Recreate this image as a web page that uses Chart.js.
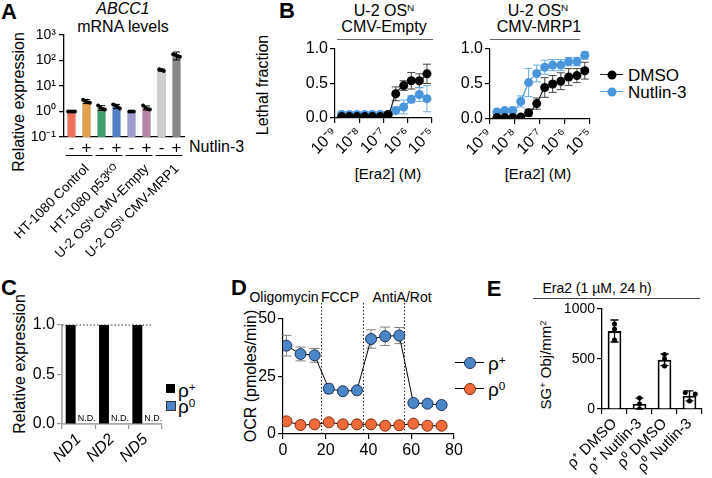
<!DOCTYPE html>
<html>
<head>
<meta charset="utf-8">
<script src="https://cdn.jsdelivr.net/npm/chart.js@4.4.1/dist/chart.umd.min.js"></script>
<style>
html, body { margin: 0; padding: 0; background: #fff; }
#fig { position: relative; width: 712px; height: 478px; overflow: hidden;
       font-family: 'Liberation Sans', Arial, sans-serif; color: #000; }
#fig canvas { position: absolute; }
.t { position: absolute; white-space: nowrap; line-height: 1; transform: translate(-50%, -50%); }
.l { position: absolute; white-space: nowrap; line-height: 1; transform: translate(0, -50%); }
.r { transform: translate(-50%, -50%) rotate(-90deg); }
.b { font-size: 22px; font-weight: bold; }
.u { position: absolute; height: 0; border-top: 1.3px solid #000; }
.dot { position: absolute; border-radius: 50%; transform: translate(-50%, -50%); }
sup { font-size: 0.62em; position: relative; top: -0.5em; vertical-align: baseline; line-height: 0; }
</style>
</head>
<body>
<div id="fig">
  <!-- panel A -->
  <div class="t b" style="left:9px;top:12px">A</div>
  <div class="t" style="left:123px;top:9px;font-size:16px;font-style:italic">ABCC1</div>
  <div class="t" style="left:123px;top:27px;font-size:16px">mRNA levels</div>
  <div class="t r" style="left:19px;top:102px;font-size:16px">Relative expression</div>
  <div class="l" style="left:189px;top:147px;font-size:16px">Nutlin-3</div>

  <!-- panel B -->
  <div class="t b" style="left:287px;top:11px">B</div>
  <div class="t" style="left:384px;top:11px;font-size:16px">U-2 OS<sup>N</sup></div>
  <div class="t" style="left:384px;top:27px;font-size:16px">CMV-Empty</div>
  <div class="u" style="left:337px;top:39px;width:96px;border-color:#666"></div>
  <div class="t" style="left:538px;top:11px;font-size:16px">U-2 OS<sup>N</sup></div>
  <div class="t" style="left:539px;top:27px;font-size:16px">CMV-MRP1</div>
  <div class="u" style="left:490px;top:39px;width:90px;border-color:#666"></div>
  <div class="t r" style="left:263px;top:85px;font-size:16px">Lethal fraction</div>
  <div class="t" style="left:388px;top:173px;font-size:15px">[Era2] (M)</div>
  <div class="t" style="left:538px;top:173px;font-size:15px">[Era2] (M)</div>
  <div class="u" style="left:600px;top:74px;width:23px;border-top:1.5px solid #222"></div>
  <div class="dot" style="left:612px;top:74.5px;width:9px;height:9px;background:#000"></div>
  <div class="l" style="left:628px;top:75px;font-size:17px">DMSO</div>
  <div class="u" style="left:600px;top:91px;width:23px;border-top:1.5px solid #4d9de0"></div>
  <div class="dot" style="left:612px;top:91.5px;width:9px;height:9px;background:#4a96dc"></div>
  <div class="l" style="left:628px;top:92px;font-size:17px">Nutlin-3</div>

  <!-- panel C -->
  <div class="t b" style="left:9px;top:288px">C</div>
  <div class="t r" style="left:20px;top:364px;font-size:16px">Relative expression</div>
  <div style="position:absolute;left:166px;top:384px;width:9px;height:9px;background:#000"></div>
  <div class="l" style="left:178px;top:390px;font-size:19px">ρ<sup>+</sup></div>
  <div style="position:absolute;left:166px;top:401px;width:8px;height:8px;background:#4a86c8;border:1px solid #333"></div>
  <div class="l" style="left:178px;top:406px;font-size:19px">ρ<sup>0</sup></div>

  <!-- panel D -->
  <div class="t b" style="left:239px;top:288px">D</div>
  <div class="t r" style="left:251px;top:376px;font-size:16px">OCR (pmoles/min)</div>
  <div class="t" style="left:284px;top:297px;font-size:14px">Oligomycin</div>
  <div class="t" style="left:340px;top:297px;font-size:14px">FCCP</div>
  <div class="t" style="left:402px;top:297px;font-size:14px">AntiA/Rot</div>
  <div class="u" style="left:455px;top:362px;width:29px;border-top:1.2px solid #000"></div>
  <div class="dot" style="left:470px;top:362.5px;width:10px;height:10px;background:#4a86c8;border:1px solid #1c3558"></div>
  <div class="l" style="left:488px;top:363px;font-size:19px">ρ<sup>+</sup></div>
  <div class="u" style="left:455px;top:388px;width:29px;border-top:1.2px solid #000"></div>
  <div class="dot" style="left:470px;top:388.5px;width:10px;height:10px;background:#f06a3a;border:1px solid #7a3010"></div>
  <div class="l" style="left:488px;top:389px;font-size:19px">ρ<sup>0</sup></div>

  <!-- panel E -->
  <div class="t b" style="left:494px;top:289px">E</div>
  <div class="t" style="left:597px;top:288px;font-size:14px">Era2 (1 µM, 24 h)</div>
  <div class="u" style="left:533px;top:298px;width:167px;border-color:#444"></div>
  <div class="t r" style="left:545px;top:365px;font-size:15px">SG<sup>+</sup> Obj/mm<sup>2</sup></div>
</div>

<script>
// ---------- data ----------
// A: ABCC1 mRNA levels (relative expression, log scale)
const groupsA = ['HT-1080 Control', 'HT-1080 p53ᴷᴼ', 'U-2 OSᴺ CMV-Empty', 'U-2 OSᴺ CMV-MRP1'];
const nutlinA = ['-', '+', '-', '+', '-', '+', '-', '+'];
const meanA = [1.0, 2.5, 1.4, 1.6, 1.0, 1.4, 42, 160];
const sdA = [0.02, 0.45, 0.3, 0.3, 0.02, 0.25, 4, 55];
const repsA = [[1, 1, 1, 1], [2.9, 2.6, 2.3, 2.2], [1.7, 1.4, 1.25, 1.2], [1.9, 1.7, 1.5, 1.3],
               [1, 1, 1], [1.7, 1.4, 1.25, 1.2], [45, 42, 39], [175, 165, 150, 140]];
const colorsA = ['#f0705a', '#e3a048', '#3f9f6c', '#5080c8', '#9d9dd0', '#b884a6', '#cdcdcd', '#878787'];
const yTicksA = [0.1, 1, 10, 100, 1000];

// B: lethal fraction vs [Era2] (M)
const concB = [1.9e-9, 3.9e-9, 8.1e-9, 1.7e-8, 3.5e-8, 7.4e-8, 1.55e-7, 3.2e-7, 6.8e-7, 1.4e-6, 3.0e-6, 6.2e-6];
const emptyDmso = [0.02, 0.02, 0.02, 0.02, 0.02, 0.02, 0.05, 0.35, 0.47, 0.54, 0.54, 0.64];
const emptyDmsoSd = [0.01, 0.01, 0.01, 0.01, 0.01, 0.01, 0.02, 0.1, 0.07, 0.12, 0.1, 0.14];
const emptyNut = [0.05, 0.05, 0.05, 0.05, 0.05, 0.05, 0.05, 0.11, 0.16, 0.27, 0.34, 0.28];
const emptyNutSd = [0.02, 0.02, 0.02, 0.02, 0.02, 0.02, 0.02, 0.05, 0.1, 0.05, 0.1, 0.19];
const mrpDmso = [0.02, 0.02, 0.02, 0.03, 0.09, 0.22, 0.45, 0.5, 0.54, 0.6, 0.62, 0.69];
const mrpDmsoSd = [0.01, 0.01, 0.01, 0.02, 0.05, 0.08, 0.14, 0.12, 0.12, 0.12, 0.1, 0.12];
const mrpNut = [0.1, 0.12, 0.12, 0.25, 0.52, 0.65, 0.74, 0.77, 0.77, 0.82, 0.82, 0.91];
const mrpNutSd = [0.03, 0.03, 0.05, 0.08, 0.2, 0.12, 0.1, 0.08, 0.08, 0.06, 0.06, 0.05];

// C: mtDNA-encoded genes
const genesC = ['ND1', 'ND2', 'ND5'];
const rhoPlusC = [1, 1, 1];
const rhoZeroC = [0, 0, 0];   // not detected
const refLineC = 1.0;

// D: Seahorse OCR
const timeD = [1.6, 8.2, 14.8, 21.4, 28, 34.6, 41.2, 47.8, 54.4, 61, 67.6, 74.2];
const ocrPlus = [38.4, 34.8, 34.2, 19.7, 18.6, 19.0, 41.3, 42.5, 42.8, 13.5, 13.2, 12.6];
const ocrPlusSd = [4.5, 3, 3, 2, 1, 1, 4, 4, 3.5, 1, 1, 1];
const ocrZero = [5.5, 3.9, 4.2, 5.1, 4.2, 4.2, 4.2, 3.6, 3.8, 4.5, 3.6, 3.6];
const ocrZeroSd = [0.8, 0.5, 0.5, 0.6, 0.5, 0.5, 0.5, 0.5, 0.5, 0.5, 0.5, 0.5];
const injectionTimes = [17.8, 37.4, 56.5];

// E: stress granules
const groupsE = ['ρ⁺ DMSO', 'ρ⁺ Nutlin-3', 'ρ⁰ DMSO', 'ρ⁰ Nutlin-3'];
const meanE = [780, 53, 492, 132];
const sdE = [110, 55, 58, 50];
const repsE = [[850, 800, 690], [110, 50, 0], [545, 500, 430], [165, 150, 80]];
const jitterE = [[0, 0, 0], [0, 0, 0], [0, 0, 0], [-0.17, 0.23, 0]];

// ---------- helpers ----------
Chart.defaults.font.family = "'Liberation Sans', Arial, sans-serif";
Chart.defaults.color = '#000';
Chart.defaults.animation = false;

const SUP = {'-': '⁻', '0': '⁰', '1': '¹', '2': '²', '3': '³', '4': '⁴', '5': '⁵', '6': '⁶', '7': '⁷', '8': '⁸', '9': '⁹'};
const pow10 = v => '10' + String(Math.round(Math.log10(v))).split('').map(c => SUP[c]).join('');
const isPow10 = v => Math.abs(Math.log10(v) - Math.round(Math.log10(v))) < 1e-9;

const fixY = w => s => { s.width = w; s.paddingTop = 0; s.paddingBottom = 0; };
const fixX = h => s => { s.height = h; s.paddingLeft = 0; s.paddingRight = 0; };

function canvasAt(x, y, w, h) {
    const c = document.createElement('canvas');
    c.width = w; c.height = h;
    c.style.left = x + 'px'; c.style.top = y + 'px';
    document.getElementById('fig').appendChild(c);
    return c;
}

function baseOptions(pad) {
    return {
        responsive: false, animation: false, devicePixelRatio: 1,
        layout: {padding: pad},
        plugins: {legend: {display: false}, tooltip: {enabled: false}}
    };
}

// replicate dots: a transparent scatter chart laid over a bar chart with the same chart area
function dotOverlay(x, y, w, h, pad, yw, xh, n, yOpts, pts, r) {
    const hidden = {ticks: {display: false}, grid: {display: false}, border: {display: false}};
    return new Chart(canvasAt(x, y, w, h), {
        type: 'scatter',
        data: {datasets: [{data: pts, pointRadius: r, backgroundColor: '#000', borderWidth: 0}]},
        options: Object.assign(baseOptions(pad), {
            scales: {
                x: Object.assign({type: 'linear', min: -0.5, max: n - 0.5, afterFit: fixX(xh)}, hidden),
                y: Object.assign({}, yOpts, hidden, {afterFit: fixY(yw)})
            }
        })
    });
}

// error bars, drawn from the dataset's value +/- error through its own y scale
function drawErrors(chart, behind) {
    const ctx = chart.ctx;
    chart.data.datasets.forEach((ds, i) => {
        if (!ds.errors || !!ds.errorsBehind !== behind) return;
        const meta = chart.getDatasetMeta(i);
        const ys = chart.scales[meta.yAxisID];
        ctx.save();
        ctx.strokeStyle = ds.errorColor || '#000';
        ctx.lineWidth = ds.errorWidth || 1;
        meta.data.forEach((el, j) => {
            const e = ds.errors[j];
            if (!e) return;
            const raw = ds.data[j];
            const v = typeof raw === 'object' ? raw.y : raw;
            const hi = ys.getPixelForValue(v + e);
            const lo = ys.getPixelForValue(Math.max(v - e, ys.min));
            const cap = ds.errorCap || 4;
            ctx.beginPath();
            ctx.moveTo(el.x, hi); ctx.lineTo(el.x, lo);
            ctx.moveTo(el.x - cap, hi); ctx.lineTo(el.x + cap, hi);
            ctx.moveTo(el.x - cap, lo); ctx.lineTo(el.x + cap, lo);
            ctx.stroke();
        });
        ctx.restore();
    });
}
const errorBars = {
    id: 'errorBars',
    beforeDatasetsDraw(chart) { drawErrors(chart, true); },
    afterDatasetsDraw(chart) { drawErrors(chart, false); }
};
Chart.register(errorBars);

// ---------- A ----------
const pairLines = {
    id: 'pairLines',
    afterDraw(chart) {
        const xs = chart.scales.x, ctx = chart.ctx;
        ctx.save();
        ctx.strokeStyle = '#000'; ctx.lineWidth = 1;
        groupsA.forEach((g, k) => {
            const y = xs.bottom - 3.5;
            ctx.beginPath();
            ctx.moveTo(xs.getPixelForValue(2 * k) - 6, y);
            ctx.lineTo(xs.getPixelForValue(2 * k + 1) + 6, y);
            ctx.stroke();
        });
        ctx.restore();
    }
};

const yOptsA = {type: 'logarithmic', min: 0.1, max: 1000};
new Chart(canvasAt(0, 0, 240, 280), {
    type: 'bar',
    data: {
        labels: nutlinA.map((s, i) => groupsA[Math.floor(i / 2)] + ' ' + s),
        datasets: [
            {data: meanA, backgroundColor: colorsA, borderColor: 'rgba(0,0,0,0.3)', borderWidth: 0.8,
             barPercentage: 0.62, categoryPercentage: 1, errors: sdA, errorColor: '#000', errorCap: 3.5}
        ]
    },
    options: Object.assign(baseOptions({left: 0, top: 35, right: 56, bottom: 0}), {
        scales: {
            x: {type: 'category', grid: {display: false, drawTicks: false}, border: {color: '#000', width: 1.3},
                ticks: {font: {size: 17}, padding: 1, maxRotation: 0, autoSkip: false, callback: (v, i) => nutlinA[i]},
                afterFit: fixX(22)},
            x2: {type: 'category', labels: groupsA, position: 'bottom', weight: 1, offset: true,
                 grid: {display: false, drawTicks: false}, border: {display: false},
                 ticks: {font: {size: 13.5}, padding: 2, minRotation: 45, maxRotation: 45, autoSkip: false, labelOffset: 8},
                 afterFit: fixX(121)},
            y: Object.assign({}, yOptsA, {
                afterBuildTicks: s => { s.ticks = yTicksA.map(v => ({value: v})); },
                ticks: {font: {size: 14}, padding: 3, callback: v => pow10(v)},
                grid: {drawOnChartArea: false, drawTicks: true, tickLength: 5, color: '#000', lineWidth: 1.3},
                border: {color: '#000', width: 1.3},
                afterFit: fixY(64)})
        }
    }),
    plugins: [pairLines]
});
const dotsA = [];
repsA.forEach((r, i) => r.forEach((v, j) => dotsA.push({x: i + (j - (r.length - 1) / 2) * 0.15, y: v})));
dotOverlay(0, 0, 240, 280, {left: 0, top: 35, right: 56, bottom: 0}, 64, 143, meanA.length, yOptsA, dotsA, 2);

// ---------- B ----------
function doseChart(x, y, w, h, yw, padRight, xh, dmso, dmsoSd, nut, nutSd) {
    const pts = arr => arr.map((v, i) => ({x: concB[i], y: v}));
    return new Chart(canvasAt(x, y, w, h), {
        type: 'line',
        data: {
            datasets: [
                {data: pts(dmso), errors: dmsoSd, errorColor: '#444', errorCap: 4, errorsBehind: true,
                 borderColor: '#222', borderWidth: 1.2, pointRadius: 4.5, pointBackgroundColor: '#000',
                 pointBorderColor: '#000', pointBorderWidth: 0, cubicInterpolationMode: 'monotone'},
                {data: pts(nut), errors: nutSd, errorColor: '#6aaee6', errorCap: 4, errorsBehind: true,
                 borderColor: '#4d9de0', borderWidth: 1.2, pointRadius: 4.5, pointBackgroundColor: '#4a96dc',
                 pointBorderColor: '#4a96dc', pointBorderWidth: 0, cubicInterpolationMode: 'monotone'}
            ]
        },
        options: Object.assign(baseOptions({left: 0, top: 49, right: padRight, bottom: 0}), {
            scales: {
                x: {type: 'logarithmic', min: 1e-9, max: 1e-5,
                    afterBuildTicks: s => { s.ticks = s.ticks.filter(t => isPow10(t.value)); },
                    ticks: {font: {size: 16}, padding: 1, minRotation: 45, maxRotation: 45, autoSkip: false,
                            callback: v => pow10(v)},
                    grid: {drawOnChartArea: false, drawTicks: true, tickLength: 5, color: '#000', lineWidth: 1.2},
                    border: {color: '#000', width: 1.2},
                    afterFit: fixX(xh)},
                y: {type: 'linear', min: 0, max: 1,
                    ticks: {stepSize: 0.5, font: {size: 16}, padding: 2, callback: v => v.toFixed(1)},
                    grid: {drawOnChartArea: false, drawTicks: true, tickLength: 5, color: '#000', lineWidth: 1.2},
                    border: {color: '#000', width: 1.2},
                    afterFit: fixY(yw)}
            }
        })
    });
}
doseChart(250, 0, 200, 170, 85, 18, 52, emptyDmso, emptyDmsoSd, emptyNut, emptyNutSd);
doseChart(445, 0, 160, 170, 45, 15, 51, mrpDmso, mrpDmsoSd, mrpNut, mrpNutSd);

// ---------- C ----------
const refLine = {
    id: 'refLine',
    afterDatasetsDraw(chart) {
        const ys = chart.scales.y, a = chart.chartArea, ctx = chart.ctx;
        const y = ys.getPixelForValue(refLineC);
        ctx.save();
        ctx.strokeStyle = '#333'; ctx.lineWidth = 1; ctx.setLineDash([1.5, 2]);
        ctx.beginPath(); ctx.moveTo(a.left, y); ctx.lineTo(a.right - 10, y); ctx.stroke();
        ctx.restore();
    }
};
const ndText = {
    id: 'ndText',
    afterDatasetsDraw(chart) {
        const meta = chart.getDatasetMeta(1), ctx = chart.ctx, a = chart.chartArea;
        ctx.save();
        ctx.font = "9px 'Liberation Sans', Arial";
        ctx.fillStyle = '#000'; ctx.textAlign = 'center'; ctx.textBaseline = 'bottom';
        meta.data.forEach((el, j) => { if (!rhoZeroC[j]) ctx.fillText('N.D.', el.x, a.bottom - 1); });
        ctx.restore();
    }
};
new Chart(canvasAt(0, 300, 200, 178), {
    type: 'bar',
    data: {
        labels: genesC,
        datasets: [
            {label: 'ρ+', data: rhoPlusC, backgroundColor: '#000', barPercentage: 0.62, categoryPercentage: 0.96},
            {label: 'ρ0', data: rhoZeroC, backgroundColor: '#4a86c8', barPercentage: 0.62, categoryPercentage: 0.96}
        ]
    },
    options: Object.assign(baseOptions({left: 0, top: 25, right: 38, bottom: 0}), {
        scales: {
            x: {grid: {drawOnChartArea: false, drawTicks: true, tickLength: 5, color: '#999', lineWidth: 1.2},
                border: {color: '#aaa', width: 1.8},
                ticks: {font: {size: 16, style: 'italic'}, padding: 1, minRotation: 45, maxRotation: 45, autoSkip: false},
                afterFit: fixX(54)},
            y: {min: 0, max: 1,
                ticks: {stepSize: 0.5, font: {size: 16}, padding: 2, callback: v => v.toFixed(1)},
                grid: {drawOnChartArea: false, drawTicks: true, tickLength: 5, color: '#999', lineWidth: 1.2},
                border: {color: '#aaa', width: 1.8},
                afterFit: fixY(62)}
        }
    }),
    plugins: [refLine, ndText]
});

// ---------- D ----------
const injLines = {
    id: 'injLines',
    beforeDatasetsDraw(chart) {
        const xs = chart.scales.x, a = chart.chartArea, ctx = chart.ctx;
        ctx.save();
        ctx.strokeStyle = '#222'; ctx.lineWidth = 1; ctx.setLineDash([1.5, 2]);
        injectionTimes.forEach(t => {
            const x = Math.round(xs.getPixelForValue(t)) + 0.5;
            ctx.beginPath(); ctx.moveTo(x, a.top - 16); ctx.lineTo(x, a.bottom); ctx.stroke();
        });
        ctx.restore();
    }
};
const ptsD = arr => arr.map((v, i) => ({x: timeD[i], y: v}));
new Chart(canvasAt(240, 290, 240, 188), {
    type: 'line',
    data: {
        datasets: [
            {data: ptsD(ocrPlus), errors: ocrPlusSd, errorColor: '#808080', errorCap: 5, errorsBehind: true,
             borderColor: '#000', borderWidth: 1, pointRadius: 5.5, pointBackgroundColor: '#4a86c8',
             pointBorderColor: '#1c3558', pointBorderWidth: 1},
            {data: ptsD(ocrZero), errors: ocrZeroSd, errorColor: '#808080', errorCap: 5, errorsBehind: true,
             borderColor: '#000', borderWidth: 1, pointRadius: 5.5, pointBackgroundColor: '#f06a3a',
             pointBorderColor: '#7a3010', pointBorderWidth: 1}
        ]
    },
    options: Object.assign(baseOptions({left: 0, top: 29, right: 26, bottom: 0}), {
        scales: {
            x: {type: 'linear', min: 0, max: 80,
                ticks: {stepSize: 20, font: {size: 16}, padding: 2},
                grid: {drawOnChartArea: false, drawTicks: true, tickLength: 5, color: '#000', lineWidth: 1.2},
                border: {color: '#000', width: 1.2},
                afterFit: fixX(44)},
            y: {type: 'linear', min: 0, max: 50,
                ticks: {stepSize: 25, font: {size: 16}, padding: 2},
                grid: {drawOnChartArea: false, drawTicks: true, tickLength: 5, color: '#000', lineWidth: 1.2},
                border: {color: '#000', width: 1.2},
                afterFit: fixY(43)}
        }
    }),
    plugins: [injLines]
});

// ---------- E ----------
const yOptsE = {type: 'linear', min: 0, max: 1000};
new Chart(canvasAt(540, 290, 172, 188), {
    type: 'bar',
    data: {
        labels: groupsE,
        datasets: [
            {data: meanE, backgroundColor: '#fff', borderColor: '#000', borderWidth: 2,
             barPercentage: 0.55, categoryPercentage: 1, errors: sdE, errorColor: '#000', errorCap: 4, errorWidth: 1.3}
        ]
    },
    options: Object.assign(baseOptions({left: 0, top: 19, right: 10, bottom: 0}), {
        scales: {
            x: {grid: {drawOnChartArea: false, drawTicks: true, tickLength: 5, color: '#000', lineWidth: 1.2},
                border: {color: '#000', width: 1.3},
                ticks: {font: {size: 15}, padding: 1, minRotation: 45, maxRotation: 45, autoSkip: false},
                afterFit: fixX(69)},
            y: Object.assign({}, yOptsE, {
                ticks: {stepSize: 500, font: {size: 14}, padding: 2, callback: v => String(v)},
                grid: {drawOnChartArea: false, drawTicks: true, tickLength: 5, color: '#000', lineWidth: 1.2},
                border: {color: '#000', width: 1.3},
                afterFit: fixY(62)})
        }
    })
});
const dotsE = [];
repsE.forEach((r, i) => r.forEach((v, j) => dotsE.push({x: i + jitterE[i][j], y: v})));
dotOverlay(540, 290, 172, 188, {left: 0, top: 19, right: 10, bottom: 0}, 62, 69, meanE.length, yOptsE, dotsE, 2.5);
</script>
</body>
</html>
